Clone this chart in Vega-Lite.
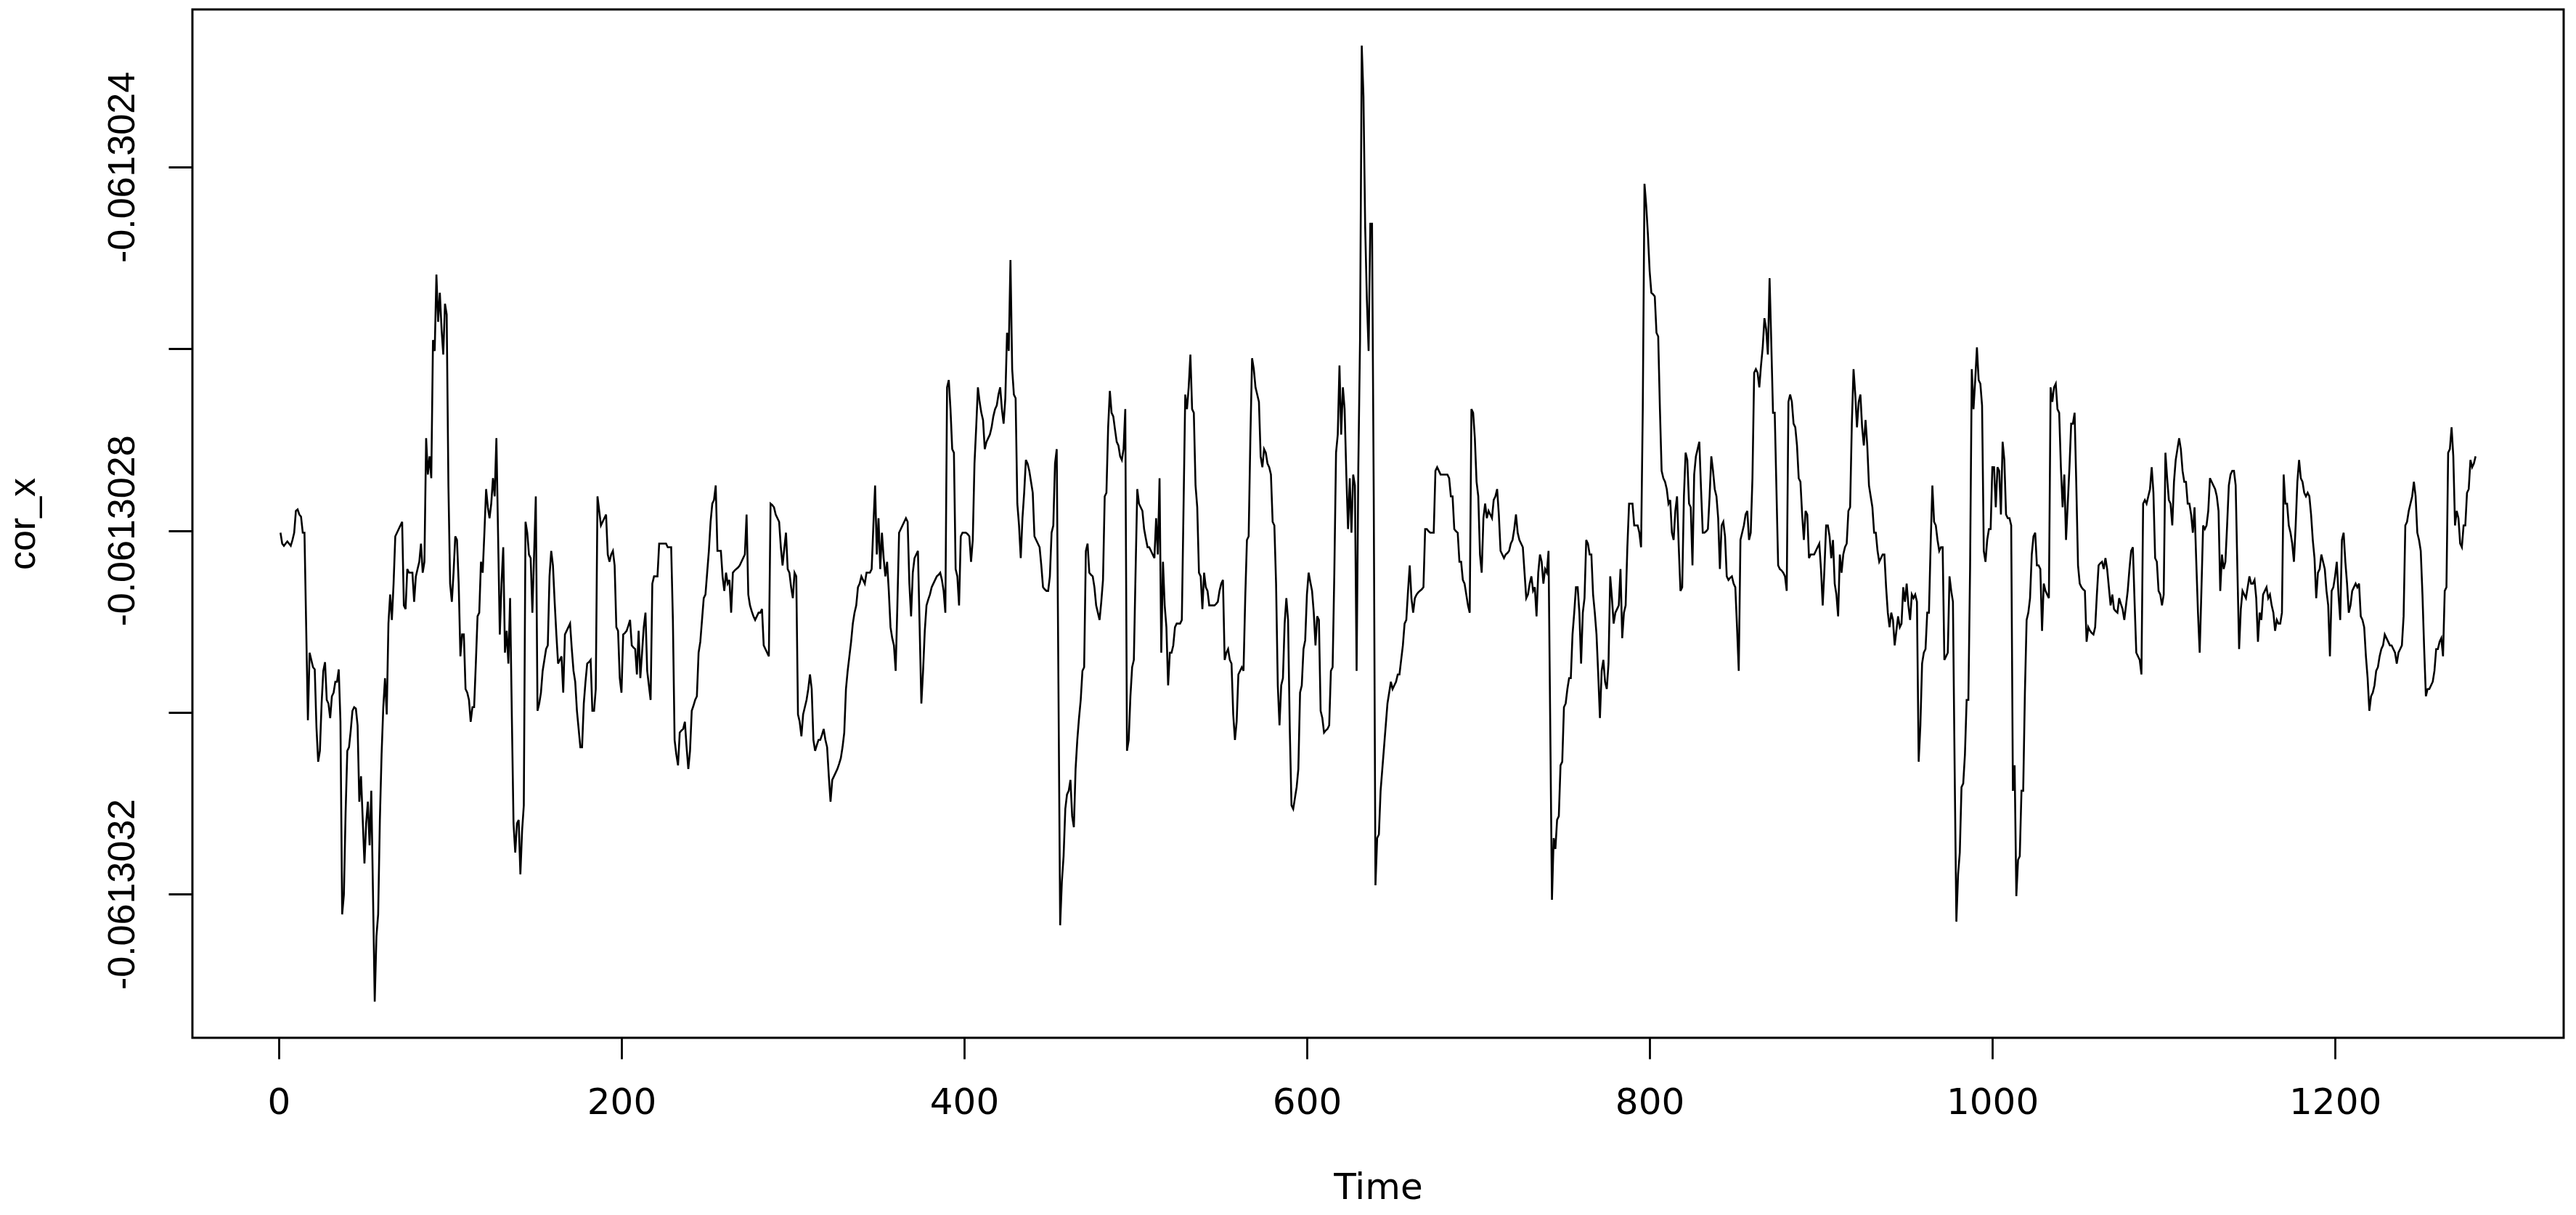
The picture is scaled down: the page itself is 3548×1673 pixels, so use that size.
{"$schema":"https://vega.github.io/schema/vega-lite/v6.json","width":3266,"height":1416,"autosize":{"type":"none"},"padding":{"left":265,"top":13,"right":17,"bottom":244},"background":"white","config":{"view":{"stroke":"black","strokeWidth":3}},
"data":{"values":[
{"t":1,"v":-0.0613028024},{"t":2,"v":-0.0613028144},{"t":3,"v":-0.0613028168},{"t":4,"v":-0.0613028144},{"t":5,"v":-0.0613028120},{"t":6,"v":-0.0613028144},{"t":7,"v":-0.0613028168},{"t":8,"v":-0.0613028104},{"t":9,"v":-0.0613028024},{"t":10,"v":-0.0613027784},
{"t":11,"v":-0.0613027768},{"t":12,"v":-0.0613027824},{"t":13,"v":-0.0613027848},{"t":14,"v":-0.0613028024},{"t":15,"v":-0.0613028024},{"t":16,"v":-0.0613029064},{"t":17,"v":-0.0613030088},{"t":18,"v":-0.0613029344},{"t":19,"v":-0.0613029424},{"t":20,"v":-0.0613029504},
{"t":21,"v":-0.0613029528},{"t":22,"v":-0.0613030168},{"t":23,"v":-0.0613030544},{"t":24,"v":-0.0613030424},{"t":25,"v":-0.0613029904},{"t":26,"v":-0.0613029544},{"t":27,"v":-0.0613029448},{"t":28,"v":-0.0613029864},{"t":29,"v":-0.0613029904},{"t":30,"v":-0.0613030064},
{"t":31,"v":-0.0613029824},{"t":32,"v":-0.0613029784},{"t":33,"v":-0.0613029664},{"t":34,"v":-0.0613029664},{"t":35,"v":-0.0613029528},{"t":36,"v":-0.0613030104},{"t":37,"v":-0.0613032224},{"t":38,"v":-0.0613032008},{"t":39,"v":-0.0613031104},{"t":40,"v":-0.0613030424},
{"t":41,"v":-0.0613030384},{"t":42,"v":-0.0613030200},{"t":43,"v":-0.0613029984},{"t":44,"v":-0.0613029944},{"t":45,"v":-0.0613029960},{"t":46,"v":-0.0613030144},{"t":47,"v":-0.0613030984},{"t":48,"v":-0.0613030704},{"t":49,"v":-0.0613031184},{"t":50,"v":-0.0613031664},
{"t":51,"v":-0.0613031224},{"t":52,"v":-0.0613030984},{"t":53,"v":-0.0613031464},{"t":54,"v":-0.0613030864},{"t":55,"v":-0.0613032008},{"t":56,"v":-0.0613033184},{"t":57,"v":-0.0613032464},{"t":58,"v":-0.0613032224},{"t":59,"v":-0.0613031184},{"t":60,"v":-0.0613030464},
{"t":61,"v":-0.0613029944},{"t":62,"v":-0.0613029624},{"t":63,"v":-0.0613030024},{"t":64,"v":-0.0613029024},{"t":65,"v":-0.0613028704},{"t":66,"v":-0.0613028984},{"t":67,"v":-0.0613028584},{"t":68,"v":-0.0613028064},{"t":69,"v":-0.0613028024},{"t":70,"v":-0.0613027984},
{"t":71,"v":-0.0613027944},{"t":72,"v":-0.0613027904},{"t":73,"v":-0.0613028824},{"t":74,"v":-0.0613028864},{"t":75,"v":-0.0613028424},{"t":76,"v":-0.0613028464},{"t":77,"v":-0.0613028464},{"t":78,"v":-0.0613028464},{"t":79,"v":-0.0613028784},{"t":80,"v":-0.0613028504},
{"t":81,"v":-0.0613028424},{"t":82,"v":-0.0613028344},{"t":83,"v":-0.0613028144},{"t":84,"v":-0.0613028464},{"t":85,"v":-0.0613028344},{"t":86,"v":-0.0613026984},{"t":87,"v":-0.0613027384},{"t":88,"v":-0.0613027184},{"t":89,"v":-0.0613027424},{"t":90,"v":-0.0613025904},
{"t":91,"v":-0.0613026024},{"t":92,"v":-0.0613025184},{"t":93,"v":-0.0613025704},{"t":94,"v":-0.0613025384},{"t":95,"v":-0.0613025784},{"t":96,"v":-0.0613026064},{"t":97,"v":-0.0613025504},{"t":98,"v":-0.0613025624},{"t":99,"v":-0.0613027504},{"t":100,"v":-0.0613028584},
{"t":101,"v":-0.0613028784},{"t":102,"v":-0.0613028464},{"t":103,"v":-0.0613028064},{"t":104,"v":-0.0613028104},{"t":105,"v":-0.0613028584},{"t":106,"v":-0.0613029384},{"t":107,"v":-0.0613029144},{"t":108,"v":-0.0613029144},{"t":109,"v":-0.0613029744},{"t":110,"v":-0.0613029784},
{"t":111,"v":-0.0613029864},{"t":112,"v":-0.0613030104},{"t":113,"v":-0.0613029944},{"t":114,"v":-0.0613029944},{"t":115,"v":-0.0613029464},{"t":116,"v":-0.0613028944},{"t":117,"v":-0.0613028904},{"t":118,"v":-0.0613028344},{"t":119,"v":-0.0613028464},{"t":120,"v":-0.0613028024},
{"t":121,"v":-0.0613027544},{"t":122,"v":-0.0613027744},{"t":123,"v":-0.0613027864},{"t":124,"v":-0.0613027704},{"t":125,"v":-0.0613027424},{"t":126,"v":-0.0613027624},{"t":127,"v":-0.0613026984},{"t":128,"v":-0.0613028064},{"t":129,"v":-0.0613029144},{"t":130,"v":-0.0613028584},
{"t":131,"v":-0.0613028184},{"t":132,"v":-0.0613029344},{"t":133,"v":-0.0613029104},{"t":134,"v":-0.0613029464},{"t":135,"v":-0.0613028744},{"t":136,"v":-0.0613030024},{"t":137,"v":-0.0613031224},{"t":138,"v":-0.0613031544},{"t":139,"v":-0.0613031224},{"t":140,"v":-0.0613031184},
{"t":141,"v":-0.0613031784},{"t":142,"v":-0.0613031304},{"t":143,"v":-0.0613031024},{"t":144,"v":-0.0613027904},{"t":145,"v":-0.0613028024},{"t":146,"v":-0.0613028264},{"t":147,"v":-0.0613028304},{"t":148,"v":-0.0613028904},{"t":149,"v":-0.0613028264},{"t":150,"v":-0.0613027624},
{"t":151,"v":-0.0613029984},{"t":152,"v":-0.0613029904},{"t":153,"v":-0.0613029784},{"t":154,"v":-0.0613029544},{"t":155,"v":-0.0613029424},{"t":156,"v":-0.0613029304},{"t":157,"v":-0.0613029264},{"t":158,"v":-0.0613028504},{"t":159,"v":-0.0613028224},{"t":160,"v":-0.0613028384},
{"t":161,"v":-0.0613028784},{"t":162,"v":-0.0613029144},{"t":163,"v":-0.0613029464},{"t":164,"v":-0.0613029424},{"t":165,"v":-0.0613029384},{"t":166,"v":-0.0613029784},{"t":167,"v":-0.0613029144},{"t":168,"v":-0.0613029104},{"t":169,"v":-0.0613029064},{"t":170,"v":-0.0613029024},
{"t":171,"v":-0.0613029304},{"t":172,"v":-0.0613029544},{"t":173,"v":-0.0613029664},{"t":174,"v":-0.0613029984},{"t":175,"v":-0.0613030184},{"t":176,"v":-0.0613030384},{"t":177,"v":-0.0613030384},{"t":178,"v":-0.0613029904},{"t":179,"v":-0.0613029664},{"t":180,"v":-0.0613029464},
{"t":181,"v":-0.0613029448},{"t":182,"v":-0.0613029424},{"t":183,"v":-0.0613029984},{"t":184,"v":-0.0613029984},{"t":185,"v":-0.0613029744},{"t":186,"v":-0.0613027624},{"t":187,"v":-0.0613027784},{"t":188,"v":-0.0613027944},{"t":189,"v":-0.0613027904},{"t":190,"v":-0.0613027864},
{"t":191,"v":-0.0613027824},{"t":192,"v":-0.0613028264},{"t":193,"v":-0.0613028344},{"t":194,"v":-0.0613028264},{"t":195,"v":-0.0613028224},{"t":196,"v":-0.0613028384},{"t":197,"v":-0.0613029064},{"t":198,"v":-0.0613029104},{"t":199,"v":-0.0613029624},{"t":200,"v":-0.0613029784},
{"t":201,"v":-0.0613029144},{"t":202,"v":-0.0613029128},{"t":203,"v":-0.0613029104},{"t":204,"v":-0.0613029048},{"t":205,"v":-0.0613028984},{"t":206,"v":-0.0613029264},{"t":207,"v":-0.0613029288},{"t":208,"v":-0.0613029304},{"t":209,"v":-0.0613029584},{"t":210,"v":-0.0613029104},
{"t":211,"v":-0.0613029624},{"t":212,"v":-0.0613029344},{"t":213,"v":-0.0613029064},{"t":214,"v":-0.0613028904},{"t":215,"v":-0.0613029544},{"t":216,"v":-0.0613029704},{"t":217,"v":-0.0613029864},{"t":218,"v":-0.0613028584},{"t":219,"v":-0.0613028504},{"t":220,"v":-0.0613028504},
{"t":221,"v":-0.0613028504},{"t":222,"v":-0.0613028144},{"t":223,"v":-0.0613028144},{"t":224,"v":-0.0613028144},{"t":225,"v":-0.0613028144},{"t":226,"v":-0.0613028144},{"t":227,"v":-0.0613028184},{"t":228,"v":-0.0613028184},{"t":229,"v":-0.0613028184},{"t":230,"v":-0.0613028984},
{"t":231,"v":-0.0613030304},{"t":232,"v":-0.0613030464},{"t":233,"v":-0.0613030584},{"t":234,"v":-0.0613030224},{"t":235,"v":-0.0613030200},{"t":236,"v":-0.0613030184},{"t":237,"v":-0.0613030104},{"t":238,"v":-0.0613030384},{"t":239,"v":-0.0613030624},{"t":240,"v":-0.0613030424},
{"t":241,"v":-0.0613029984},{"t":242,"v":-0.0613029928},{"t":243,"v":-0.0613029864},{"t":244,"v":-0.0613029824},{"t":245,"v":-0.0613029344},{"t":246,"v":-0.0613029224},{"t":247,"v":-0.0613028984},{"t":248,"v":-0.0613028744},{"t":249,"v":-0.0613028704},{"t":250,"v":-0.0613028464},
{"t":251,"v":-0.0613028224},{"t":252,"v":-0.0613027904},{"t":253,"v":-0.0613027704},{"t":254,"v":-0.0613027664},{"t":255,"v":-0.0613027504},{"t":256,"v":-0.0613028224},{"t":257,"v":-0.0613028224},{"t":258,"v":-0.0613028224},{"t":259,"v":-0.0613028504},{"t":260,"v":-0.0613028664},
{"t":261,"v":-0.0613028464},{"t":262,"v":-0.0613028584},{"t":263,"v":-0.0613028544},{"t":264,"v":-0.0613028904},{"t":265,"v":-0.0613028464},{"t":266,"v":-0.0613028440},{"t":267,"v":-0.0613028424},{"t":268,"v":-0.0613028408},{"t":269,"v":-0.0613028384},{"t":270,"v":-0.0613028344},
{"t":271,"v":-0.0613028304},{"t":272,"v":-0.0613028264},{"t":273,"v":-0.0613027824},{"t":274,"v":-0.0613028704},{"t":275,"v":-0.0613028824},{"t":276,"v":-0.0613028888},{"t":277,"v":-0.0613028944},{"t":278,"v":-0.0613028984},{"t":279,"v":-0.0613028944},{"t":280,"v":-0.0613028904},
{"t":281,"v":-0.0613028904},{"t":282,"v":-0.0613028864},{"t":283,"v":-0.0613029264},{"t":284,"v":-0.0613029304},{"t":285,"v":-0.0613029344},{"t":286,"v":-0.0613029384},{"t":287,"v":-0.0613027704},{"t":288,"v":-0.0613027720},{"t":289,"v":-0.0613027744},{"t":290,"v":-0.0613027824},
{"t":291,"v":-0.0613027864},{"t":292,"v":-0.0613027904},{"t":293,"v":-0.0613028184},{"t":294,"v":-0.0613028384},{"t":295,"v":-0.0613028200},{"t":296,"v":-0.0613028024},{"t":297,"v":-0.0613028424},{"t":298,"v":-0.0613028464},{"t":299,"v":-0.0613028624},{"t":300,"v":-0.0613028744},
{"t":301,"v":-0.0613028464},{"t":302,"v":-0.0613028504},{"t":303,"v":-0.0613030024},{"t":304,"v":-0.0613030104},{"t":305,"v":-0.0613030264},{"t":306,"v":-0.0613030024},{"t":307,"v":-0.0613029944},{"t":308,"v":-0.0613029864},{"t":309,"v":-0.0613029744},{"t":310,"v":-0.0613029584},
{"t":311,"v":-0.0613029744},{"t":312,"v":-0.0613030304},{"t":313,"v":-0.0613030424},{"t":314,"v":-0.0613030360},{"t":315,"v":-0.0613030304},{"t":316,"v":-0.0613030304},{"t":317,"v":-0.0613030248},{"t":318,"v":-0.0613030184},{"t":319,"v":-0.0613030304},{"t":320,"v":-0.0613030384},
{"t":321,"v":-0.0613030704},{"t":322,"v":-0.0613030984},{"t":323,"v":-0.0613030744},{"t":324,"v":-0.0613030704},{"t":325,"v":-0.0613030664},{"t":326,"v":-0.0613030624},{"t":327,"v":-0.0613030568},{"t":328,"v":-0.0613030504},{"t":329,"v":-0.0613030384},{"t":330,"v":-0.0613030224},
{"t":331,"v":-0.0613029744},{"t":332,"v":-0.0613029544},{"t":333,"v":-0.0613029384},{"t":334,"v":-0.0613029224},{"t":335,"v":-0.0613029024},{"t":336,"v":-0.0613028904},{"t":337,"v":-0.0613028824},{"t":338,"v":-0.0613028624},{"t":339,"v":-0.0613028584},{"t":340,"v":-0.0613028504},
{"t":341,"v":-0.0613028544},{"t":342,"v":-0.0613028584},{"t":343,"v":-0.0613028464},{"t":344,"v":-0.0613028464},{"t":345,"v":-0.0613028464},{"t":346,"v":-0.0613028424},{"t":347,"v":-0.0613027944},{"t":348,"v":-0.0613027504},{"t":349,"v":-0.0613028264},{"t":350,"v":-0.0613027864},
{"t":351,"v":-0.0613028424},{"t":352,"v":-0.0613028024},{"t":353,"v":-0.0613028304},{"t":354,"v":-0.0613028504},{"t":355,"v":-0.0613028344},{"t":356,"v":-0.0613028664},{"t":357,"v":-0.0613029064},{"t":358,"v":-0.0613029184},{"t":359,"v":-0.0613029264},{"t":360,"v":-0.0613029544},
{"t":361,"v":-0.0613028824},{"t":362,"v":-0.0613028024},{"t":363,"v":-0.0613027984},{"t":364,"v":-0.0613027944},{"t":365,"v":-0.0613027904},{"t":366,"v":-0.0613027864},{"t":367,"v":-0.0613027904},{"t":368,"v":-0.0613028584},{"t":369,"v":-0.0613028944},{"t":370,"v":-0.0613028464},
{"t":371,"v":-0.0613028304},{"t":372,"v":-0.0613028264},{"t":373,"v":-0.0613028224},{"t":374,"v":-0.0613029064},{"t":375,"v":-0.0613029904},{"t":376,"v":-0.0613029544},{"t":377,"v":-0.0613029104},{"t":378,"v":-0.0613028824},{"t":379,"v":-0.0613028760},{"t":380,"v":-0.0613028704},
{"t":381,"v":-0.0613028624},{"t":382,"v":-0.0613028584},{"t":383,"v":-0.0613028544},{"t":384,"v":-0.0613028504},{"t":385,"v":-0.0613028488},{"t":386,"v":-0.0613028464},{"t":387,"v":-0.0613028544},{"t":388,"v":-0.0613028664},{"t":389,"v":-0.0613028904},{"t":390,"v":-0.0613026424},
{"t":391,"v":-0.0613026344},{"t":392,"v":-0.0613026664},{"t":393,"v":-0.0613027104},{"t":394,"v":-0.0613027144},{"t":395,"v":-0.0613028424},{"t":396,"v":-0.0613028504},{"t":397,"v":-0.0613028824},{"t":398,"v":-0.0613028064},{"t":399,"v":-0.0613028024},{"t":400,"v":-0.0613028024},
{"t":401,"v":-0.0613028024},{"t":402,"v":-0.0613028040},{"t":403,"v":-0.0613028064},{"t":404,"v":-0.0613028344},{"t":405,"v":-0.0613028104},{"t":406,"v":-0.0613027264},{"t":407,"v":-0.0613026864},{"t":408,"v":-0.0613026424},{"t":409,"v":-0.0613026584},{"t":410,"v":-0.0613026704},
{"t":411,"v":-0.0613026784},{"t":412,"v":-0.0613027104},{"t":413,"v":-0.0613027024},{"t":414,"v":-0.0613026984},{"t":415,"v":-0.0613026944},{"t":416,"v":-0.0613026864},{"t":417,"v":-0.0613026744},{"t":418,"v":-0.0613026664},{"t":419,"v":-0.0613026624},{"t":420,"v":-0.0613026504},
{"t":421,"v":-0.0613026424},{"t":422,"v":-0.0613026664},{"t":423,"v":-0.0613026824},{"t":424,"v":-0.0613026544},{"t":425,"v":-0.0613025824},{"t":426,"v":-0.0613026024},{"t":427,"v":-0.0613025024},{"t":428,"v":-0.0613026224},{"t":429,"v":-0.0613026504},{"t":430,"v":-0.0613026544},
{"t":431,"v":-0.0613027704},{"t":432,"v":-0.0613027944},{"t":433,"v":-0.0613028304},{"t":434,"v":-0.0613027864},{"t":435,"v":-0.0613027584},{"t":436,"v":-0.0613027224},{"t":437,"v":-0.0613027264},{"t":438,"v":-0.0613027344},{"t":439,"v":-0.0613027464},{"t":440,"v":-0.0613027584},
{"t":441,"v":-0.0613028064},{"t":442,"v":-0.0613028104},{"t":443,"v":-0.0613028144},{"t":444,"v":-0.0613028184},{"t":445,"v":-0.0613028384},{"t":446,"v":-0.0613028624},{"t":447,"v":-0.0613028648},{"t":448,"v":-0.0613028664},{"t":449,"v":-0.0613028664},{"t":450,"v":-0.0613028504},
{"t":451,"v":-0.0613028024},{"t":452,"v":-0.0613027944},{"t":453,"v":-0.0613027264},{"t":454,"v":-0.0613027104},{"t":455,"v":-0.0613029704},{"t":456,"v":-0.0613032344},{"t":457,"v":-0.0613031864},{"t":458,"v":-0.0613031584},{"t":459,"v":-0.0613031064},{"t":460,"v":-0.0613030904},
{"t":461,"v":-0.0613030864},{"t":462,"v":-0.0613030744},{"t":463,"v":-0.0613031144},{"t":464,"v":-0.0613031264},{"t":465,"v":-0.0613030624},{"t":466,"v":-0.0613030304},{"t":467,"v":-0.0613030064},{"t":468,"v":-0.0613029864},{"t":469,"v":-0.0613029544},{"t":470,"v":-0.0613029504},
{"t":471,"v":-0.0613028224},{"t":472,"v":-0.0613028144},{"t":473,"v":-0.0613028464},{"t":474,"v":-0.0613028488},{"t":475,"v":-0.0613028504},{"t":476,"v":-0.0613028624},{"t":477,"v":-0.0613028824},{"t":478,"v":-0.0613028904},{"t":479,"v":-0.0613028984},{"t":480,"v":-0.0613028784},
{"t":481,"v":-0.0613028544},{"t":482,"v":-0.0613027624},{"t":483,"v":-0.0613027584},{"t":484,"v":-0.0613026864},{"t":485,"v":-0.0613026464},{"t":486,"v":-0.0613026704},{"t":487,"v":-0.0613026744},{"t":488,"v":-0.0613026888},{"t":489,"v":-0.0613027024},{"t":490,"v":-0.0613027064},
{"t":491,"v":-0.0613027184},{"t":492,"v":-0.0613027224},{"t":493,"v":-0.0613027104},{"t":494,"v":-0.0613026664},{"t":495,"v":-0.0613030424},{"t":496,"v":-0.0613030304},{"t":497,"v":-0.0613029824},{"t":498,"v":-0.0613029504},{"t":499,"v":-0.0613029424},{"t":500,"v":-0.0613028464},
{"t":501,"v":-0.0613027544},{"t":502,"v":-0.0613027704},{"t":503,"v":-0.0613027744},{"t":504,"v":-0.0613027784},{"t":505,"v":-0.0613027984},{"t":506,"v":-0.0613028088},{"t":507,"v":-0.0613028184},{"t":508,"v":-0.0613028184},{"t":509,"v":-0.0613028224},{"t":510,"v":-0.0613028264},
{"t":511,"v":-0.0613028304},{"t":512,"v":-0.0613027864},{"t":513,"v":-0.0613028264},{"t":514,"v":-0.0613027424},{"t":515,"v":-0.0613029344},{"t":516,"v":-0.0613028344},{"t":517,"v":-0.0613028824},{"t":518,"v":-0.0613029064},{"t":519,"v":-0.0613029704},{"t":520,"v":-0.0613029344},
{"t":521,"v":-0.0613029344},{"t":522,"v":-0.0613029264},{"t":523,"v":-0.0613029064},{"t":524,"v":-0.0613029024},{"t":525,"v":-0.0613029024},{"t":526,"v":-0.0613029024},{"t":527,"v":-0.0613028984},{"t":528,"v":-0.0613027744},{"t":529,"v":-0.0613026504},{"t":530,"v":-0.0613026664},
{"t":531,"v":-0.0613026424},{"t":532,"v":-0.0613026064},{"t":533,"v":-0.0613026664},{"t":534,"v":-0.0613026704},{"t":535,"v":-0.0613027504},{"t":536,"v":-0.0613027744},{"t":537,"v":-0.0613028464},{"t":538,"v":-0.0613028504},{"t":539,"v":-0.0613028864},{"t":540,"v":-0.0613028464},
{"t":541,"v":-0.0613028624},{"t":542,"v":-0.0613028664},{"t":543,"v":-0.0613028824},{"t":544,"v":-0.0613028824},{"t":545,"v":-0.0613028824},{"t":546,"v":-0.0613028824},{"t":547,"v":-0.0613028808},{"t":548,"v":-0.0613028784},{"t":549,"v":-0.0613028664},{"t":550,"v":-0.0613028584},
{"t":551,"v":-0.0613028544},{"t":552,"v":-0.0613029424},{"t":553,"v":-0.0613029344},{"t":554,"v":-0.0613029304},{"t":555,"v":-0.0613029424},{"t":556,"v":-0.0613029464},{"t":557,"v":-0.0613030024},{"t":558,"v":-0.0613030304},{"t":559,"v":-0.0613030104},{"t":560,"v":-0.0613029584},
{"t":561,"v":-0.0613029544},{"t":562,"v":-0.0613029504},{"t":563,"v":-0.0613029544},{"t":564,"v":-0.0613028744},{"t":565,"v":-0.0613028104},{"t":566,"v":-0.0613028064},{"t":567,"v":-0.0613026984},{"t":568,"v":-0.0613026104},{"t":569,"v":-0.0613026224},{"t":570,"v":-0.0613026424},
{"t":571,"v":-0.0613026504},{"t":572,"v":-0.0613026584},{"t":573,"v":-0.0613027184},{"t":574,"v":-0.0613027304},{"t":575,"v":-0.0613027104},{"t":576,"v":-0.0613027144},{"t":577,"v":-0.0613027264},{"t":578,"v":-0.0613027304},{"t":579,"v":-0.0613027384},{"t":580,"v":-0.0613027904},
{"t":581,"v":-0.0613027944},{"t":582,"v":-0.0613028584},{"t":583,"v":-0.0613029704},{"t":584,"v":-0.0613030144},{"t":585,"v":-0.0613029704},{"t":586,"v":-0.0613029624},{"t":587,"v":-0.0613029024},{"t":588,"v":-0.0613028744},{"t":589,"v":-0.0613028984},{"t":590,"v":-0.0613030184},
{"t":591,"v":-0.0613031024},{"t":592,"v":-0.0613031064},{"t":593,"v":-0.0613030944},{"t":594,"v":-0.0613030824},{"t":595,"v":-0.0613030624},{"t":596,"v":-0.0613029784},{"t":597,"v":-0.0613029704},{"t":598,"v":-0.0613029304},{"t":599,"v":-0.0613029208},{"t":600,"v":-0.0613028704},
{"t":601,"v":-0.0613028464},{"t":602,"v":-0.0613028568},{"t":603,"v":-0.0613028664},{"t":604,"v":-0.0613028904},{"t":605,"v":-0.0613029264},{"t":606,"v":-0.0613028944},{"t":607,"v":-0.0613028984},{"t":608,"v":-0.0613029984},{"t":609,"v":-0.0613030064},{"t":610,"v":-0.0613030224},
{"t":611,"v":-0.0613030200},{"t":612,"v":-0.0613030184},{"t":613,"v":-0.0613030144},{"t":614,"v":-0.0613029544},{"t":615,"v":-0.0613029504},{"t":616,"v":-0.0613028464},{"t":617,"v":-0.0613027144},{"t":618,"v":-0.0613026944},{"t":619,"v":-0.0613026184},{"t":620,"v":-0.0613026944},
{"t":621,"v":-0.0613026424},{"t":622,"v":-0.0613026664},{"t":623,"v":-0.0613027384},{"t":624,"v":-0.0613027984},{"t":625,"v":-0.0613027424},{"t":626,"v":-0.0613028024},{"t":627,"v":-0.0613027384},{"t":628,"v":-0.0613027504},{"t":629,"v":-0.0613029544},{"t":630,"v":-0.0613027304},
{"t":631,"v":-0.0613025904},{"t":632,"v":-0.0613022664},{"t":633,"v":-0.0613023224},{"t":634,"v":-0.0613024664},{"t":635,"v":-0.0613025464},{"t":636,"v":-0.0613026024},{"t":637,"v":-0.0613024624},{"t":638,"v":-0.0613024624},{"t":639,"v":-0.0613027624},{"t":640,"v":-0.0613031904},
{"t":641,"v":-0.0613031384},{"t":642,"v":-0.0613031344},{"t":643,"v":-0.0613030864},{"t":644,"v":-0.0613030624},{"t":645,"v":-0.0613030384},{"t":646,"v":-0.0613030144},{"t":647,"v":-0.0613029904},{"t":648,"v":-0.0613029784},{"t":649,"v":-0.0613029664},{"t":650,"v":-0.0613029744},
{"t":651,"v":-0.0613029704},{"t":652,"v":-0.0613029664},{"t":653,"v":-0.0613029584},{"t":654,"v":-0.0613029584},{"t":655,"v":-0.0613029424},{"t":656,"v":-0.0613029264},{"t":657,"v":-0.0613029024},{"t":658,"v":-0.0613028984},{"t":659,"v":-0.0613028664},{"t":660,"v":-0.0613028384},
{"t":661,"v":-0.0613028744},{"t":662,"v":-0.0613028904},{"t":663,"v":-0.0613028744},{"t":664,"v":-0.0613028704},{"t":665,"v":-0.0613028680},{"t":666,"v":-0.0613028664},{"t":667,"v":-0.0613028648},{"t":668,"v":-0.0613028624},{"t":669,"v":-0.0613027984},{"t":670,"v":-0.0613027984},
{"t":671,"v":-0.0613028008},{"t":672,"v":-0.0613028024},{"t":673,"v":-0.0613028024},{"t":674,"v":-0.0613028024},{"t":675,"v":-0.0613027344},{"t":676,"v":-0.0613027304},{"t":677,"v":-0.0613027344},{"t":678,"v":-0.0613027384},{"t":679,"v":-0.0613027384},{"t":680,"v":-0.0613027384},
{"t":681,"v":-0.0613027384},{"t":682,"v":-0.0613027384},{"t":683,"v":-0.0613027424},{"t":684,"v":-0.0613027624},{"t":685,"v":-0.0613027624},{"t":686,"v":-0.0613027984},{"t":687,"v":-0.0613028008},{"t":688,"v":-0.0613028024},{"t":689,"v":-0.0613028344},{"t":690,"v":-0.0613028344},
{"t":691,"v":-0.0613028544},{"t":692,"v":-0.0613028584},{"t":693,"v":-0.0613028704},{"t":694,"v":-0.0613028824},{"t":695,"v":-0.0613028904},{"t":696,"v":-0.0613026664},{"t":697,"v":-0.0613026704},{"t":698,"v":-0.0613026984},{"t":699,"v":-0.0613027464},{"t":700,"v":-0.0613027624},
{"t":701,"v":-0.0613028264},{"t":702,"v":-0.0613028464},{"t":703,"v":-0.0613027864},{"t":704,"v":-0.0613027704},{"t":705,"v":-0.0613027864},{"t":706,"v":-0.0613027784},{"t":707,"v":-0.0613027824},{"t":708,"v":-0.0613027864},{"t":709,"v":-0.0613027664},{"t":710,"v":-0.0613027624},
{"t":711,"v":-0.0613027544},{"t":712,"v":-0.0613027824},{"t":713,"v":-0.0613028224},{"t":714,"v":-0.0613028264},{"t":715,"v":-0.0613028304},{"t":716,"v":-0.0613028264},{"t":717,"v":-0.0613028248},{"t":718,"v":-0.0613028224},{"t":719,"v":-0.0613028144},{"t":720,"v":-0.0613028104},
{"t":721,"v":-0.0613027984},{"t":722,"v":-0.0613027824},{"t":723,"v":-0.0613028024},{"t":724,"v":-0.0613028104},{"t":725,"v":-0.0613028144},{"t":726,"v":-0.0613028184},{"t":727,"v":-0.0613028464},{"t":728,"v":-0.0613028744},{"t":729,"v":-0.0613028704},{"t":730,"v":-0.0613028584},
{"t":731,"v":-0.0613028504},{"t":732,"v":-0.0613028664},{"t":733,"v":-0.0613028624},{"t":734,"v":-0.0613028944},{"t":735,"v":-0.0613028464},{"t":736,"v":-0.0613028264},{"t":737,"v":-0.0613028344},{"t":738,"v":-0.0613028584},{"t":739,"v":-0.0613028424},{"t":740,"v":-0.0613028464},
{"t":741,"v":-0.0613028224},{"t":742,"v":-0.0613030144},{"t":743,"v":-0.0613032064},{"t":744,"v":-0.0613031384},{"t":745,"v":-0.0613031504},{"t":746,"v":-0.0613031184},{"t":747,"v":-0.0613031144},{"t":748,"v":-0.0613030584},{"t":749,"v":-0.0613030544},{"t":750,"v":-0.0613029944},
{"t":751,"v":-0.0613029904},{"t":752,"v":-0.0613029744},{"t":753,"v":-0.0613029624},{"t":754,"v":-0.0613029624},{"t":755,"v":-0.0613029144},{"t":756,"v":-0.0613028904},{"t":757,"v":-0.0613028624},{"t":758,"v":-0.0613028624},{"t":759,"v":-0.0613028904},{"t":760,"v":-0.0613029464},
{"t":761,"v":-0.0613028904},{"t":762,"v":-0.0613028744},{"t":763,"v":-0.0613028104},{"t":764,"v":-0.0613028144},{"t":765,"v":-0.0613028264},{"t":766,"v":-0.0613028264},{"t":767,"v":-0.0613028704},{"t":768,"v":-0.0613028904},{"t":769,"v":-0.0613029144},{"t":770,"v":-0.0613029584},
{"t":771,"v":-0.0613030064},{"t":772,"v":-0.0613029544},{"t":773,"v":-0.0613029424},{"t":774,"v":-0.0613029664},{"t":775,"v":-0.0613029744},{"t":776,"v":-0.0613029464},{"t":777,"v":-0.0613028504},{"t":778,"v":-0.0613028744},{"t":779,"v":-0.0613029024},{"t":780,"v":-0.0613028904},
{"t":781,"v":-0.0613028864},{"t":782,"v":-0.0613028824},{"t":783,"v":-0.0613028424},{"t":784,"v":-0.0613029184},{"t":785,"v":-0.0613028904},{"t":786,"v":-0.0613028824},{"t":787,"v":-0.0613028184},{"t":788,"v":-0.0613027704},{"t":789,"v":-0.0613027704},{"t":790,"v":-0.0613027704},
{"t":791,"v":-0.0613027944},{"t":792,"v":-0.0613027944},{"t":793,"v":-0.0613027944},{"t":794,"v":-0.0613028024},{"t":795,"v":-0.0613028184},{"t":796,"v":-0.0613026664},{"t":797,"v":-0.0613024184},{"t":798,"v":-0.0613024424},{"t":799,"v":-0.0613024744},{"t":800,"v":-0.0613025144},
{"t":801,"v":-0.0613025384},{"t":802,"v":-0.0613025400},{"t":803,"v":-0.0613025424},{"t":804,"v":-0.0613025824},{"t":805,"v":-0.0613025864},{"t":806,"v":-0.0613026664},{"t":807,"v":-0.0613027344},{"t":808,"v":-0.0613027424},{"t":809,"v":-0.0613027464},{"t":810,"v":-0.0613027544},
{"t":811,"v":-0.0613027704},{"t":812,"v":-0.0613027664},{"t":813,"v":-0.0613028024},{"t":814,"v":-0.0613028104},{"t":815,"v":-0.0613027784},{"t":816,"v":-0.0613027624},{"t":817,"v":-0.0613028184},{"t":818,"v":-0.0613028664},{"t":819,"v":-0.0613028624},{"t":820,"v":-0.0613027624},
{"t":821,"v":-0.0613027144},{"t":822,"v":-0.0613027224},{"t":823,"v":-0.0613027704},{"t":824,"v":-0.0613027744},{"t":825,"v":-0.0613028384},{"t":826,"v":-0.0613027384},{"t":827,"v":-0.0613027184},{"t":828,"v":-0.0613027104},{"t":829,"v":-0.0613027024},{"t":830,"v":-0.0613027544},
{"t":831,"v":-0.0613028024},{"t":832,"v":-0.0613028024},{"t":833,"v":-0.0613028008},{"t":834,"v":-0.0613027984},{"t":835,"v":-0.0613027624},{"t":836,"v":-0.0613027184},{"t":837,"v":-0.0613027344},{"t":838,"v":-0.0613027544},{"t":839,"v":-0.0613027624},{"t":840,"v":-0.0613027864},
{"t":841,"v":-0.0613028424},{"t":842,"v":-0.0613027944},{"t":843,"v":-0.0613027904},{"t":844,"v":-0.0613028064},{"t":845,"v":-0.0613028504},{"t":846,"v":-0.0613028544},{"t":847,"v":-0.0613028520},{"t":848,"v":-0.0613028504},{"t":849,"v":-0.0613028584},{"t":850,"v":-0.0613028624},
{"t":851,"v":-0.0613029064},{"t":852,"v":-0.0613029544},{"t":853,"v":-0.0613028104},{"t":854,"v":-0.0613028024},{"t":855,"v":-0.0613027944},{"t":856,"v":-0.0613027824},{"t":857,"v":-0.0613027784},{"t":858,"v":-0.0613028104},{"t":859,"v":-0.0613028024},{"t":860,"v":-0.0613027424},
{"t":861,"v":-0.0613026264},{"t":862,"v":-0.0613026224},{"t":863,"v":-0.0613026264},{"t":864,"v":-0.0613026424},{"t":865,"v":-0.0613026184},{"t":866,"v":-0.0613025984},{"t":867,"v":-0.0613025664},{"t":868,"v":-0.0613025784},{"t":869,"v":-0.0613026064},{"t":870,"v":-0.0613025224},
{"t":871,"v":-0.0613025944},{"t":872,"v":-0.0613026704},{"t":873,"v":-0.0613026704},{"t":874,"v":-0.0613027544},{"t":875,"v":-0.0613028384},{"t":876,"v":-0.0613028424},{"t":877,"v":-0.0613028440},{"t":878,"v":-0.0613028464},{"t":879,"v":-0.0613028504},{"t":880,"v":-0.0613028664},
{"t":881,"v":-0.0613026584},{"t":882,"v":-0.0613026504},{"t":883,"v":-0.0613026584},{"t":884,"v":-0.0613026824},{"t":885,"v":-0.0613026864},{"t":886,"v":-0.0613027064},{"t":887,"v":-0.0613027424},{"t":888,"v":-0.0613027464},{"t":889,"v":-0.0613027824},{"t":890,"v":-0.0613028104},
{"t":891,"v":-0.0613027784},{"t":892,"v":-0.0613027824},{"t":893,"v":-0.0613028304},{"t":894,"v":-0.0613028264},{"t":895,"v":-0.0613028264},{"t":896,"v":-0.0613028264},{"t":897,"v":-0.0613028224},{"t":898,"v":-0.0613028184},{"t":899,"v":-0.0613028144},{"t":900,"v":-0.0613028424},
{"t":901,"v":-0.0613028824},{"t":902,"v":-0.0613028424},{"t":903,"v":-0.0613027944},{"t":904,"v":-0.0613027944},{"t":905,"v":-0.0613028064},{"t":906,"v":-0.0613028304},{"t":907,"v":-0.0613028104},{"t":908,"v":-0.0613028584},{"t":909,"v":-0.0613028704},{"t":910,"v":-0.0613028944},
{"t":911,"v":-0.0613028264},{"t":912,"v":-0.0613028464},{"t":913,"v":-0.0613028264},{"t":914,"v":-0.0613028184},{"t":915,"v":-0.0613028144},{"t":916,"v":-0.0613027784},{"t":917,"v":-0.0613027744},{"t":918,"v":-0.0613026824},{"t":919,"v":-0.0613026224},{"t":920,"v":-0.0613026504},
{"t":921,"v":-0.0613026864},{"t":922,"v":-0.0613026584},{"t":923,"v":-0.0613026504},{"t":924,"v":-0.0613026864},{"t":925,"v":-0.0613027064},{"t":926,"v":-0.0613026784},{"t":927,"v":-0.0613027064},{"t":928,"v":-0.0613027504},{"t":929,"v":-0.0613027624},{"t":930,"v":-0.0613027744},
{"t":931,"v":-0.0613028024},{"t":932,"v":-0.0613028024},{"t":933,"v":-0.0613028224},{"t":934,"v":-0.0613028344},{"t":935,"v":-0.0613028304},{"t":936,"v":-0.0613028264},{"t":937,"v":-0.0613028264},{"t":938,"v":-0.0613028624},{"t":939,"v":-0.0613028904},{"t":940,"v":-0.0613029064},
{"t":941,"v":-0.0613028904},{"t":942,"v":-0.0613028984},{"t":943,"v":-0.0613029264},{"t":944,"v":-0.0613029104},{"t":945,"v":-0.0613028944},{"t":946,"v":-0.0613029064},{"t":947,"v":-0.0613029024},{"t":948,"v":-0.0613028624},{"t":949,"v":-0.0613028784},{"t":950,"v":-0.0613028584},
{"t":951,"v":-0.0613028824},{"t":952,"v":-0.0613028984},{"t":953,"v":-0.0613028704},{"t":954,"v":-0.0613028744},{"t":955,"v":-0.0613028704},{"t":956,"v":-0.0613028784},{"t":957,"v":-0.0613030544},{"t":958,"v":-0.0613030144},{"t":959,"v":-0.0613029464},{"t":960,"v":-0.0613029344},
{"t":961,"v":-0.0613029304},{"t":962,"v":-0.0613028904},{"t":963,"v":-0.0613028904},{"t":964,"v":-0.0613028144},{"t":965,"v":-0.0613027504},{"t":966,"v":-0.0613027904},{"t":967,"v":-0.0613027944},{"t":968,"v":-0.0613028104},{"t":969,"v":-0.0613028224},{"t":970,"v":-0.0613028184},
{"t":971,"v":-0.0613028184},{"t":972,"v":-0.0613029424},{"t":973,"v":-0.0613029384},{"t":974,"v":-0.0613029344},{"t":975,"v":-0.0613028504},{"t":976,"v":-0.0613028664},{"t":977,"v":-0.0613028784},{"t":978,"v":-0.0613030624},{"t":979,"v":-0.0613032304},{"t":980,"v":-0.0613031784},
{"t":981,"v":-0.0613031544},{"t":982,"v":-0.0613030824},{"t":983,"v":-0.0613030784},{"t":984,"v":-0.0613030464},{"t":985,"v":-0.0613029864},{"t":986,"v":-0.0613029864},{"t":987,"v":-0.0613028424},{"t":988,"v":-0.0613026224},{"t":989,"v":-0.0613026664},{"t":990,"v":-0.0613026344},
{"t":991,"v":-0.0613025984},{"t":992,"v":-0.0613026344},{"t":993,"v":-0.0613026384},{"t":994,"v":-0.0613026624},{"t":995,"v":-0.0613028224},{"t":996,"v":-0.0613028344},{"t":997,"v":-0.0613028104},{"t":998,"v":-0.0613027984},{"t":999,"v":-0.0613027984},{"t":1000,"v":-0.0613027304},
{"t":1001,"v":-0.0613027304},{"t":1002,"v":-0.0613027744},{"t":1003,"v":-0.0613027304},{"t":1004,"v":-0.0613027344},{"t":1005,"v":-0.0613027824},{"t":1006,"v":-0.0613027024},{"t":1007,"v":-0.0613027224},{"t":1008,"v":-0.0613027824},{"t":1009,"v":-0.0613027864},{"t":1010,"v":-0.0613027864},
{"t":1011,"v":-0.0613027944},{"t":1012,"v":-0.0613030864},{"t":1013,"v":-0.0613030584},{"t":1014,"v":-0.0613032024},{"t":1015,"v":-0.0613031624},{"t":1016,"v":-0.0613031584},{"t":1017,"v":-0.0613030864},{"t":1018,"v":-0.0613030864},{"t":1019,"v":-0.0613029784},{"t":1020,"v":-0.0613028984},
{"t":1021,"v":-0.0613028904},{"t":1022,"v":-0.0613028744},{"t":1023,"v":-0.0613028264},{"t":1024,"v":-0.0613028064},{"t":1025,"v":-0.0613028024},{"t":1026,"v":-0.0613028384},{"t":1027,"v":-0.0613028384},{"t":1028,"v":-0.0613028424},{"t":1029,"v":-0.0613029104},{"t":1030,"v":-0.0613028584},
{"t":1031,"v":-0.0613028664},{"t":1032,"v":-0.0613028704},{"t":1033,"v":-0.0613028744},{"t":1034,"v":-0.0613026424},{"t":1035,"v":-0.0613026584},{"t":1036,"v":-0.0613026424},{"t":1037,"v":-0.0613026384},{"t":1038,"v":-0.0613026664},{"t":1039,"v":-0.0613026704},{"t":1040,"v":-0.0613027304},
{"t":1041,"v":-0.0613027744},{"t":1042,"v":-0.0613027384},{"t":1043,"v":-0.0613028104},{"t":1044,"v":-0.0613027704},{"t":1045,"v":-0.0613027304},{"t":1046,"v":-0.0613026824},{"t":1047,"v":-0.0613026824},{"t":1048,"v":-0.0613026704},{"t":1049,"v":-0.0613027504},{"t":1050,"v":-0.0613028384},
{"t":1051,"v":-0.0613028584},{"t":1052,"v":-0.0613028624},{"t":1053,"v":-0.0613028648},{"t":1054,"v":-0.0613028664},{"t":1055,"v":-0.0613029224},{"t":1056,"v":-0.0613029064},{"t":1057,"v":-0.0613029104},{"t":1058,"v":-0.0613029128},{"t":1059,"v":-0.0613029144},{"t":1060,"v":-0.0613029064},
{"t":1061,"v":-0.0613028704},{"t":1062,"v":-0.0613028384},{"t":1063,"v":-0.0613028360},{"t":1064,"v":-0.0613028344},{"t":1065,"v":-0.0613028424},{"t":1066,"v":-0.0613028304},{"t":1067,"v":-0.0613028424},{"t":1068,"v":-0.0613028624},{"t":1069,"v":-0.0613028824},{"t":1070,"v":-0.0613028704},
{"t":1071,"v":-0.0613028864},{"t":1072,"v":-0.0613028888},{"t":1073,"v":-0.0613028904},{"t":1074,"v":-0.0613028744},{"t":1075,"v":-0.0613028808},{"t":1076,"v":-0.0613028864},{"t":1077,"v":-0.0613028984},{"t":1078,"v":-0.0613028824},{"t":1079,"v":-0.0613028664},{"t":1080,"v":-0.0613028424},
{"t":1081,"v":-0.0613028224},{"t":1082,"v":-0.0613028184},{"t":1083,"v":-0.0613028784},{"t":1084,"v":-0.0613029344},{"t":1085,"v":-0.0613029384},{"t":1086,"v":-0.0613029424},{"t":1087,"v":-0.0613029584},{"t":1088,"v":-0.0613027704},{"t":1089,"v":-0.0613027664},{"t":1090,"v":-0.0613027704},
{"t":1091,"v":-0.0613027624},{"t":1092,"v":-0.0613027544},{"t":1093,"v":-0.0613027304},{"t":1094,"v":-0.0613027584},{"t":1095,"v":-0.0613028304},{"t":1096,"v":-0.0613028344},{"t":1097,"v":-0.0613028664},{"t":1098,"v":-0.0613028704},{"t":1099,"v":-0.0613028824},{"t":1100,"v":-0.0613028704},
{"t":1101,"v":-0.0613027144},{"t":1102,"v":-0.0613027424},{"t":1103,"v":-0.0613027664},{"t":1104,"v":-0.0613027704},{"t":1105,"v":-0.0613027944},{"t":1106,"v":-0.0613027464},{"t":1107,"v":-0.0613027224},{"t":1108,"v":-0.0613027104},{"t":1109,"v":-0.0613026984},{"t":1110,"v":-0.0613027104},
{"t":1111,"v":-0.0613027344},{"t":1112,"v":-0.0613027464},{"t":1113,"v":-0.0613027464},{"t":1114,"v":-0.0613027704},{"t":1115,"v":-0.0613027704},{"t":1116,"v":-0.0613027824},{"t":1117,"v":-0.0613028024},{"t":1118,"v":-0.0613027744},{"t":1119,"v":-0.0613028344},{"t":1120,"v":-0.0613028904},
{"t":1121,"v":-0.0613029344},{"t":1122,"v":-0.0613028664},{"t":1123,"v":-0.0613027944},{"t":1124,"v":-0.0613027984},{"t":1125,"v":-0.0613027944},{"t":1126,"v":-0.0613027784},{"t":1127,"v":-0.0613027424},{"t":1128,"v":-0.0613027464},{"t":1129,"v":-0.0613027504},{"t":1130,"v":-0.0613027544},
{"t":1131,"v":-0.0613027624},{"t":1132,"v":-0.0613027784},{"t":1133,"v":-0.0613028664},{"t":1134,"v":-0.0613028264},{"t":1135,"v":-0.0613028424},{"t":1136,"v":-0.0613028344},{"t":1137,"v":-0.0613027944},{"t":1138,"v":-0.0613027504},{"t":1139,"v":-0.0613027384},{"t":1140,"v":-0.0613027344},
{"t":1141,"v":-0.0613027344},{"t":1142,"v":-0.0613027504},{"t":1143,"v":-0.0613028424},{"t":1144,"v":-0.0613029304},{"t":1145,"v":-0.0613028864},{"t":1146,"v":-0.0613028664},{"t":1147,"v":-0.0613028704},{"t":1148,"v":-0.0613028744},{"t":1149,"v":-0.0613028624},{"t":1150,"v":-0.0613028504},
{"t":1151,"v":-0.0613028584},{"t":1152,"v":-0.0613028584},{"t":1153,"v":-0.0613028544},{"t":1154,"v":-0.0613028744},{"t":1155,"v":-0.0613029224},{"t":1156,"v":-0.0613028904},{"t":1157,"v":-0.0613028984},{"t":1158,"v":-0.0613028704},{"t":1159,"v":-0.0613028664},{"t":1160,"v":-0.0613028624},
{"t":1161,"v":-0.0613028744},{"t":1162,"v":-0.0613028704},{"t":1163,"v":-0.0613028824},{"t":1164,"v":-0.0613028904},{"t":1165,"v":-0.0613029104},{"t":1166,"v":-0.0613028984},{"t":1167,"v":-0.0613029024},{"t":1168,"v":-0.0613029024},{"t":1169,"v":-0.0613028904},{"t":1170,"v":-0.0613027384},
{"t":1171,"v":-0.0613027704},{"t":1172,"v":-0.0613027704},{"t":1173,"v":-0.0613027944},{"t":1174,"v":-0.0613028024},{"t":1175,"v":-0.0613028144},{"t":1176,"v":-0.0613028344},{"t":1177,"v":-0.0613027944},{"t":1178,"v":-0.0613027464},{"t":1179,"v":-0.0613027224},{"t":1180,"v":-0.0613027424},
{"t":1181,"v":-0.0613027464},{"t":1182,"v":-0.0613027584},{"t":1183,"v":-0.0613027624},{"t":1184,"v":-0.0613027584},{"t":1185,"v":-0.0613027624},{"t":1186,"v":-0.0613027824},{"t":1187,"v":-0.0613028104},{"t":1188,"v":-0.0613028304},{"t":1189,"v":-0.0613028744},{"t":1190,"v":-0.0613028464},
{"t":1191,"v":-0.0613028424},{"t":1192,"v":-0.0613028264},{"t":1193,"v":-0.0613028344},{"t":1194,"v":-0.0613028424},{"t":1195,"v":-0.0613028664},{"t":1196,"v":-0.0613028824},{"t":1197,"v":-0.0613029384},{"t":1198,"v":-0.0613028664},{"t":1199,"v":-0.0613028624},{"t":1200,"v":-0.0613028504},
{"t":1201,"v":-0.0613028344},{"t":1202,"v":-0.0613028704},{"t":1203,"v":-0.0613028984},{"t":1204,"v":-0.0613028104},{"t":1205,"v":-0.0613028024},{"t":1206,"v":-0.0613028344},{"t":1207,"v":-0.0613028584},{"t":1208,"v":-0.0613028904},{"t":1209,"v":-0.0613028824},{"t":1210,"v":-0.0613028664},
{"t":1211,"v":-0.0613028624},{"t":1212,"v":-0.0613028584},{"t":1213,"v":-0.0613028624},{"t":1214,"v":-0.0613028584},{"t":1215,"v":-0.0613028944},{"t":1216,"v":-0.0613028984},{"t":1217,"v":-0.0613029064},{"t":1218,"v":-0.0613029384},{"t":1219,"v":-0.0613029624},{"t":1220,"v":-0.0613029984},
{"t":1221,"v":-0.0613029824},{"t":1222,"v":-0.0613029784},{"t":1223,"v":-0.0613029704},{"t":1224,"v":-0.0613029544},{"t":1225,"v":-0.0613029504},{"t":1226,"v":-0.0613029384},{"t":1227,"v":-0.0613029304},{"t":1228,"v":-0.0613029264},{"t":1229,"v":-0.0613029144},{"t":1230,"v":-0.0613029184},
{"t":1231,"v":-0.0613029224},{"t":1232,"v":-0.0613029264},{"t":1233,"v":-0.0613029264},{"t":1234,"v":-0.0613029304},{"t":1235,"v":-0.0613029344},{"t":1236,"v":-0.0613029464},{"t":1237,"v":-0.0613029344},{"t":1238,"v":-0.0613029304},{"t":1239,"v":-0.0613029264},{"t":1240,"v":-0.0613028944},
{"t":1241,"v":-0.0613027944},{"t":1242,"v":-0.0613027904},{"t":1243,"v":-0.0613027784},{"t":1244,"v":-0.0613027704},{"t":1245,"v":-0.0613027624},{"t":1246,"v":-0.0613027464},{"t":1247,"v":-0.0613027624},{"t":1248,"v":-0.0613028024},{"t":1249,"v":-0.0613028104},{"t":1250,"v":-0.0613028224},
{"t":1251,"v":-0.0613028704},{"t":1252,"v":-0.0613029304},{"t":1253,"v":-0.0613029824},{"t":1254,"v":-0.0613029744},{"t":1255,"v":-0.0613029744},{"t":1256,"v":-0.0613029704},{"t":1257,"v":-0.0613029664},{"t":1258,"v":-0.0613029544},{"t":1259,"v":-0.0613029304},{"t":1260,"v":-0.0613029304},
{"t":1261,"v":-0.0613029224},{"t":1262,"v":-0.0613029184},{"t":1263,"v":-0.0613029384},{"t":1264,"v":-0.0613028664},{"t":1265,"v":-0.0613028624},{"t":1266,"v":-0.0613027144},{"t":1267,"v":-0.0613027104},{"t":1268,"v":-0.0613026864},{"t":1269,"v":-0.0613027184},{"t":1270,"v":-0.0613027944},
{"t":1271,"v":-0.0613027784},{"t":1272,"v":-0.0613027864},{"t":1273,"v":-0.0613028144},{"t":1274,"v":-0.0613028184},{"t":1275,"v":-0.0613027944},{"t":1276,"v":-0.0613027944},{"t":1277,"v":-0.0613027584},{"t":1278,"v":-0.0613027544},{"t":1279,"v":-0.0613027224},{"t":1280,"v":-0.0613027304},
{"t":1281,"v":-0.0613027264},{"t":1282,"v":-0.0613027184}
]},
"mark":{"type":"line","color":"black","strokeWidth":2.6,"interpolate":"linear","clip":false},
"encoding":{
"x":{"field":"t","type":"quantitative","scale":{"domain":[-50.4,1333.4],"nice":false,"zero":false},
"axis":{"values":[0,200,400,600,800,1000,1200],"format":"d","title":"Time","grid":false,"domain":false,"ticks":true,"tickSize":29,"tickWidth":2.8,"tickColor":"black","labelFont":"DejaVu Sans","labelFontSize":50,"labelColor":"black","labelPadding":75,"labelBaseline":"alphabetic","labelAlign":"center","labelFlush":false,"labelOverlap":false,"labelBound":false,"labelLimit":1000,"titleFont":"DejaVu Sans","titleFontSize":50,"titleFontWeight":"normal","titleColor":"black","titleX":1633,"titleY":221,"titleBaseline":"alphabetic","titleAlign":"center","titleAnchor":null}},
"y":{"field":"v","type":"quantitative","scale":{"domain":[-0.0613033582,-0.0613022266],"nice":false,"zero":false},
"axis":{"values":[-0.0613032,-0.061303,-0.0613028,-0.0613026,-0.0613024],"format":".7f","labelExpr":"abs(datum.value + 0.0613026) < 1e-11 || abs(datum.value + 0.061303) < 1e-11 ? '' : '-' + format(abs(datum.value), '.7f')","title":"cor_x","grid":false,"domain":false,"ticks":true,"tickSize":33,"tickWidth":2.8,"tickColor":"black","labelFont":"Liberation Sans","labelFontSize":52,"labelColor":"black","labelAngle":270,"labelAlign":"center","labelBaseline":"alphabetic","labelPadding":48,"labelOverlap":false,"labelBound":false,"labelFlush":false,"labelLimit":1000,"titleFont":"Liberation Sans","titleFontSize":52,"titleFontWeight":"normal","titleColor":"black","titleAngle":270,"titleX":-218,"titleY":708,"titleBaseline":"alphabetic","titleAlign":"center","titleAnchor":null}}
}}
